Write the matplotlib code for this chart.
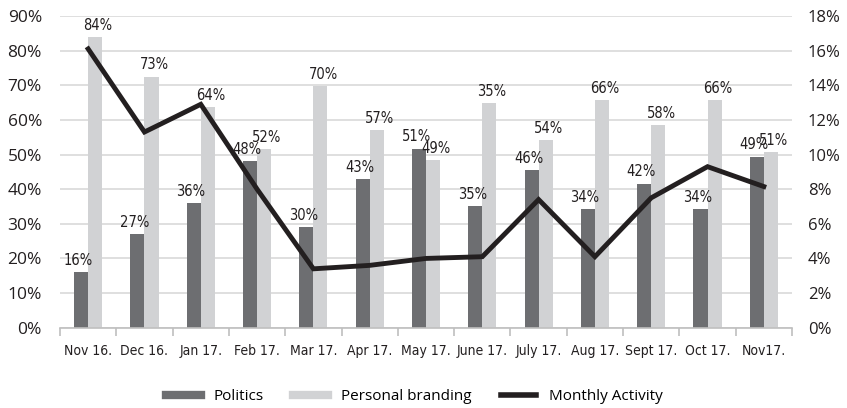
import matplotlib
matplotlib.use("Agg")
import matplotlib.pyplot as plt
from matplotlib.lines import Line2D
from matplotlib.ticker import FixedLocator, PercentFormatter
from matplotlib import font_manager
import numpy as np

categories = ["Nov 16.", "Dec 16.", "Jan 17.", "Feb 17.", "Mar 17.", "Apr 17.", "May 17.",
              "June 17.", "July 17.", "Aug 17.", "Sept 17.", "Oct 17.", "Nov17."]
politics = [16, 27, 36, 48, 29, 43, 51.7, 35, 45.6, 34.3, 41.6, 34.3, 49.4]
politics_labels = ["16%", "27%", "36%", "48%", "30%", "43%", "51%", "35%", "46%", "34%", "42%", "34%", "49%"]
branding = [84, 72.5, 63.6, 51.6, 69.8, 57, 48.5, 64.9, 54.2, 65.8, 58.4, 65.8, 50.7]
branding_labels = ["84%", "73%", "64%", "52%", "70%", "57%", "49%", "35%", "54%", "66%", "58%", "66%", "51%"]
activity = [16.1, 11.3, 12.9, 8.0, 3.4, 3.6, 4.0, 4.1, 7.4, 4.1, 7.5, 9.3, 8.15]

c_pol = "#6d6e71"
c_pb = "#d1d2d4"
c_line = "#231f20"
grid_c = "#d9d9d9"
txt_c = "#231f20"

# pick a condensed font if one is installed
fonts = font_manager.fontManager.ttflist
names = {f.name for f in fonts}
if "Liberation Sans Narrow" in names:
    narrow_kw = {"family": ["Liberation Sans Narrow", "DejaVu Sans"]}
    dsize, xsize = 11, 10.5
elif any(f.name == "DejaVu Sans" and str(f.stretch) in ("condensed", "semi-condensed") for f in fonts):
    narrow_kw = {"family": ["DejaVu Sans"], "stretch": "condensed"}
    dsize, xsize = 10.5, 10
else:
    narrow_kw = {"family": ["Roboto", "DejaVu Sans"]}
    dsize, xsize = 10, 9.5
reg = ["Open Sans", "DejaVu Sans"]

fig = plt.figure(figsize=(8.47, 4.08), dpi=100)
ax = fig.add_axes([60/847, 1-327.7/408, (792-60)/847, (327.7-16)/408])
x = np.arange(len(categories))
w = 0.25
ax.bar(x - w/2, politics, w, color=c_pol, zorder=2)
ax.bar(x + w/2, branding, w, color=c_pb, zorder=2)
for i in range(len(x)):
    ax.annotate(politics_labels[i], (x[i] - w/2, politics[i]), xytext=(-2, 3), textcoords="offset points",
                ha="center", va="bottom", fontsize=dsize, color=txt_c, zorder=5, **narrow_kw)
    ax.annotate(branding_labels[i], (x[i] + w/2, branding[i]), xytext=(2, 3), textcoords="offset points",
                ha="center", va="bottom", fontsize=dsize, color=txt_c, zorder=5, **narrow_kw)

ax.set_xlim(-0.5, len(x) - 0.5)
ax.set_ylim(0, 90)
ax.set_yticks(np.arange(0, 91, 10))
ax.yaxis.set_major_formatter(PercentFormatter(decimals=0))
ax.grid(axis="y", color=grid_c, linewidth=1.2, zorder=0)
ax.set_axisbelow(True)
for s in ["top", "left", "right"]:
    ax.spines[s].set_visible(False)
ax.spines["bottom"].set_color("#bfbfbf")
ax.spines["bottom"].set_linewidth(1.2)
ax.set_xticks(x)
ax.set_xticklabels(categories, fontsize=xsize, color=txt_c)
for t in ax.get_xticklabels():
    t.set_family(narrow_kw["family"])
    if "stretch" in narrow_kw:
        t.set_stretch(narrow_kw["stretch"])
ax.tick_params(axis="x", which="major", length=0, pad=12)
ax.xaxis.set_minor_locator(FixedLocator(np.arange(-0.5, len(x), 1)))
ax.tick_params(axis="x", which="minor", length=6, color="#bfbfbf", width=1.2)
ax.tick_params(axis="y", length=0, pad=13, labelsize=12.5, labelcolor=txt_c)
for t in ax.get_yticklabels():
    t.set_family(reg)

ax2 = ax.twinx()
ax2.plot(x, activity, color=c_line, linewidth=3.5, solid_joinstyle="miter", zorder=4)
ax2.set_ylim(0, 18)
ax2.set_yticks(np.arange(0, 19, 2))
ax2.yaxis.set_major_formatter(PercentFormatter(decimals=0))
ax2.tick_params(axis="y", length=0, pad=11.5, labelsize=12, labelcolor=txt_c)
for t in ax2.get_yticklabels():
    t.set_family(reg)
for s in ax2.spines.values():
    s.set_visible(False)

handles = [Line2D([], [], color=c_pol, linewidth=6),
           Line2D([], [], color=c_pb, linewidth=6),
           Line2D([], [], color=c_line, linewidth=4)]
fig.legend(handles, ["Politics", "Personal branding", "Monthly Activity"], loc="center",
           bbox_to_anchor=(414/847, 1-397/408), ncol=3, frameon=False, handlelength=2.3,
           columnspacing=1.9, handletextpad=0.85, prop={"family": reg, "size": 11})

fig.savefig("out.png", dpi=100)
